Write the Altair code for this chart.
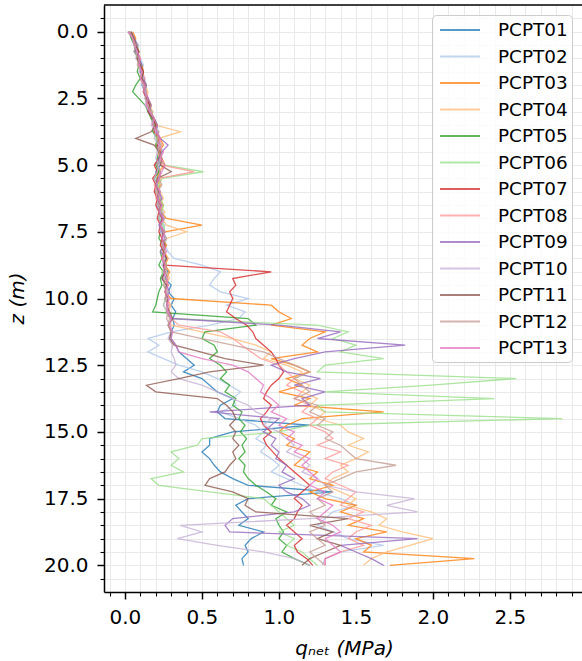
import altair as alt
import pandas as pd

DEPTH = [0.0, 0.25, 0.5, 0.75, 1.0, 1.25, 1.5, 1.75, 2.0, 2.25,
         2.5, 2.75, 3.0, 3.25, 3.5, 3.75, 4.0, 4.25, 4.5, 4.75,
         5.0, 5.25, 5.5, 5.75, 6.0, 6.25, 6.5, 6.75, 7.0, 7.25,
         7.5, 7.75, 8.0, 8.25, 8.5, 8.75, 9.0, 9.25, 9.5, 9.75,
         10.0, 10.25, 10.5, 10.75, 11.0, 11.25, 11.5, 11.75, 12.0, 12.25,
         12.5, 12.75, 13.0, 13.25, 13.5, 13.75, 14.0, 14.25, 14.5, 14.75,
         15.0, 15.25, 15.5, 15.75, 16.0, 16.25, 16.5, 16.75, 17.0, 17.25,
         17.5, 17.75, 18.0, 18.25, 18.5, 18.75, 19.0, 19.25, 19.5, 19.75,
         20.0]

NAMES = ["PCPT01", "PCPT02", "PCPT03", "PCPT04", "PCPT05", "PCPT06", "PCPT07",
         "PCPT08", "PCPT09", "PCPT10", "PCPT11", "PCPT12", "PCPT13"]
COLORS = ["#1f77b4", "#aec7e8", "#ff7f0e", "#ffbb78", "#2ca02c", "#98df8a", "#d62728",
          "#ff9896", "#9467bd", "#c5b0d5", "#8c564b", "#c49c94", "#e377c2"]

PCPT01 = [0.02, 0.05, 0.07, 0.06, 0.09, 0.11, 0.10, 0.12, 0.11, 0.13, 0.15, 0.14, 0.18, 0.17, 0.21, 0.20,
          0.23, 0.21, 0.24, 0.22, 0.23, 0.20, 0.22, 0.21, 0.23, 0.21, 0.24, 0.22, 0.25, 0.23, 0.26, 0.24,
          0.26, 0.25, 0.27, 0.25, 0.28, 0.26, 0.30, 0.28, 0.32, 0.30, 0.33, 0.31, 0.32, 0.30,
          0.30, 0.33, 0.35, 0.40, 0.45, 0.38, 0.50, 0.55, 0.60, 0.70, 0.62, 0.60, 0.65, 1.20, 0.70, 0.55,
          0.55, 0.50, 0.55, 0.58, 0.62, 0.70, 0.80, 1.35, 0.80, 0.72, 0.76, 0.80, 0.74, 0.90, 0.82, 0.78,
          0.80, 0.76, 0.77]
PCPT02 = [0.04, 0.06, 0.09, 0.08, 0.10, 0.12, 0.11, 0.13, 0.12, 0.14, 0.13, 0.16, 0.16, 0.19, 0.19, 0.22,
          0.21, 0.24, 0.22, 0.23, 0.21, 0.23, 0.20, 0.22, 0.22, 0.24, 0.22, 0.25, 0.23, 0.26, 0.24, 0.27,
          0.26, 0.28,
          0.32, 0.50, 0.62, 0.58, 0.55, 0.62, 0.80, 0.66, 0.78, 0.74, 0.55, 0.30, 0.15, 0.22, 0.15, 0.25,
          0.35, 0.50, 0.60, 0.68, 0.75, 0.70, 0.72, 0.62, 0.74, 0.85, 0.90, 0.85, 0.92, 0.88, 0.95, 1.00,
          0.95, 1.05, 1.15, 1.25, 1.40, 1.50, 1.35, 1.30, 1.25, 1.35, 1.45, 1.68, 1.40, 1.30, 1.28]
PCPT03 = [0.05, 0.07, 0.06, 0.09, 0.08, 0.11, 0.12, 0.10, 0.13, 0.12, 0.15, 0.17, 0.16, 0.19, 0.21, 0.19,
          0.23, 0.25, 0.22, 0.24, 0.26, 0.22, 0.21, 0.23, 0.20, 0.22, 0.25, 0.23, 0.27, 0.50, 0.26, 0.24,
          0.27, 0.25, 0.28, 0.26, 0.29, 0.27, 0.28, 0.26,
          0.30, 0.95, 1.00, 1.08, 0.95, 1.30, 1.20, 1.15, 1.25, 0.95, 1.10, 1.20, 1.05, 1.15, 1.00, 1.20,
          1.10, 1.68, 1.15, 1.05, 1.00, 1.10, 1.05, 1.20, 1.15, 1.10, 1.25, 1.20, 1.35, 1.20, 1.30, 1.50,
          1.40, 1.55, 1.45, 1.70, 1.50, 1.60, 1.55, 2.27, 1.72]
PCPT04 = [0.03, 0.06, 0.08, 0.07, 0.10, 0.09, 0.12, 0.11, 0.13, 0.15, 0.14, 0.16, 0.18, 0.17, 0.20, 0.36,
          0.22, 0.20, 0.24, 0.23, 0.25, 0.22, 0.24, 0.21, 0.23, 0.25, 0.22, 0.26, 0.24, 0.27, 0.40, 0.27,
          0.24, 0.26, 0.28, 0.25, 0.27, 0.29, 0.26, 0.28, 0.27, 0.30, 0.28, 0.27,
          0.30, 0.50, 0.70, 0.85, 0.95, 0.90, 1.05, 1.15, 1.10, 1.20, 1.15, 1.25, 1.20, 1.30, 1.25, 1.40,
          1.45, 1.55, 1.45, 1.58, 1.50, 1.40, 1.45, 1.35, 1.30, 1.40, 1.50, 1.45, 1.60, 1.70, 1.65, 1.80,
          2.00, 1.85, 1.70, 1.60, 1.55]
PCPT05 = [0.03, 0.04, 0.06, 0.07, 0.08, 0.09, 0.08, 0.10, 0.07, 0.05, 0.09, 0.13, 0.15, 0.17, 0.19, 0.18,
          0.21, 0.20, 0.22, 0.21, 0.20, 0.22, 0.19, 0.21, 0.20, 0.22, 0.21, 0.23, 0.22, 0.24, 0.23, 0.22,
          0.25, 0.23, 0.24, 0.22, 0.25, 0.23, 0.24, 0.22, 0.21, 0.20, 0.18,
          0.80, 0.85, 0.52, 0.50, 0.58, 0.60, 0.55, 0.62, 0.66, 0.62, 0.68, 0.65, 0.72, 0.70, 0.76, 0.74,
          0.78, 0.75, 0.79, 0.76, 0.78, 0.74, 0.78, 0.77, 0.80, 0.85, 0.92, 0.98, 0.95, 1.05, 0.98, 1.00,
          1.03, 1.00, 1.05, 1.02, 1.10, 1.20]
PCPT06 = [0.04, 0.05, 0.08, 0.09, 0.08, 0.11, 0.10, 0.12, 0.14, 0.13, 0.15, 0.14, 0.17, 0.19, 0.18, 0.21,
          0.20, 0.23, 0.24, 0.22, 0.26, 0.51, 0.24, 0.22, 0.21, 0.23, 0.25, 0.24, 0.22, 0.25, 0.26, 0.24,
          0.23, 0.26, 0.25, 0.27, 0.24, 0.26, 0.25, 0.28, 0.26, 0.25, 0.27, 0.30,
          1.25, 1.45, 1.35, 1.50, 1.40, 1.68, 1.30, 1.25, 2.54, 1.99, 1.30, 2.40, 1.25, 1.30, 2.84, 1.20,
          1.00, 0.50, 0.47, 0.30, 0.35, 0.30, 0.38, 0.17, 0.22, 0.55, 0.90, 0.95, 1.00, 1.05, 1.10, 1.00,
          1.10, 1.05, 1.15, 1.20, 1.25]
PCPT07 = [0.03, 0.05, 0.07, 0.09, 0.08, 0.10, 0.12, 0.11, 0.13, 0.12, 0.14, 0.16, 0.15, 0.18, 0.20, 0.19,
          0.22, 0.21, 0.23, 0.22, 0.19, 0.21, 0.18, 0.20, 0.19, 0.21, 0.20, 0.22, 0.21, 0.23, 0.22, 0.24,
          0.23, 0.25, 0.24, 0.26,
          0.95, 0.70, 0.72, 0.68, 0.70, 0.68, 0.66, 0.72, 0.79, 0.83, 0.85, 0.90, 0.95, 0.98, 1.00, 1.03,
          1.00, 0.95, 0.92, 0.90, 0.95, 0.92, 0.88, 0.90, 0.95, 0.90, 0.92, 0.96, 1.00, 1.05, 1.10, 1.15,
          1.20, 1.15, 1.10, 1.15, 1.12, 1.10, 1.05, 1.10, 1.15, 1.10, 1.12, 1.18, 1.22]
PCPT08 = [0.02, 0.06, 0.07, 0.08, 0.10, 0.09, 0.11, 0.13, 0.12, 0.14, 0.15, 0.14, 0.17, 0.18, 0.21, 0.20,
          0.22, 0.24, 0.21, 0.23, 0.24, 0.45, 0.22, 0.19, 0.21, 0.20, 0.23, 0.22, 0.24, 0.23, 0.25, 0.24,
          0.26, 0.25, 0.24, 0.26, 0.27, 0.25, 0.28, 0.26, 0.27, 0.29, 0.28, 0.30,
          0.35, 0.62, 0.70, 0.76, 0.82, 0.88, 1.00, 1.05, 1.10, 1.05, 1.15, 1.10, 1.20, 1.15, 1.25, 1.20,
          1.30, 1.35, 1.25, 1.40, 1.30, 1.45, 1.35, 1.30, 1.40, 1.50, 1.45, 1.40, 1.55, 1.45, 1.60, 1.50,
          1.45, 1.55, 1.40, 1.30, 1.30]
PCPT09 = [0.04, 0.06, 0.08, 0.07, 0.09, 0.11, 0.10, 0.12, 0.14, 0.13, 0.15, 0.17, 0.16, 0.19, 0.21, 0.20,
          0.23, 0.28, 0.24, 0.22, 0.21, 0.23, 0.22, 0.20, 0.22, 0.24, 0.21, 0.23, 0.25, 0.22, 0.24, 0.26,
          0.25, 0.23, 0.27, 0.25, 0.26, 0.24, 0.27, 0.29, 0.26, 0.28, 0.27,
          0.30, 1.00, 1.40, 1.25, 1.82, 1.30, 1.10, 0.95, 1.05, 1.27, 1.10, 1.30, 1.15, 1.20, 0.55, 1.00,
          0.95, 0.90, 0.98, 0.95, 1.00, 0.98, 1.05, 1.02, 1.10, 1.00, 1.05, 1.15, 1.20, 1.10, 0.70, 0.65,
          0.68, 1.90, 1.40, 1.50, 1.60, 1.68]
PCPT10 = [0.03, 0.05, 0.06, 0.08, 0.07, 0.10, 0.09, 0.12, 0.11, 0.13, 0.14, 0.13, 0.16, 0.18, 0.17, 0.20,
          0.19, 0.22, 0.21, 0.20, 0.22, 0.21, 0.19, 0.21, 0.20, 0.22, 0.21, 0.23, 0.22, 0.24, 0.23, 0.25,
          0.24, 0.26, 0.25, 0.24, 0.27, 0.25, 0.26, 0.28, 0.27, 0.25, 0.28, 0.27, 0.29, 0.30, 0.28, 0.31,
          0.30, 0.32,
          0.33, 0.30, 0.35, 0.50, 0.60, 0.70, 0.80, 0.85, 0.95, 0.90, 1.00, 1.05, 1.10, 1.05, 1.15, 1.20,
          1.15, 1.25, 1.30, 1.50, 1.88, 1.70, 1.90, 1.20, 0.36, 0.50, 0.34, 0.60, 0.90, 1.10, 1.20]
PCPT11 = [0.04, 0.06, 0.07, 0.09, 0.08, 0.10, 0.12, 0.11, 0.13, 0.12, 0.14, 0.16, 0.15, 0.18, 0.20, 0.17,
          0.07, 0.19, 0.22, 0.24, 0.23, 0.30, 0.21, 0.20, 0.22, 0.21, 0.23, 0.22, 0.24, 0.23, 0.25, 0.24,
          0.26, 0.25, 0.27, 0.25, 0.26, 0.24, 0.27, 0.26, 0.28, 0.27, 0.29, 0.31, 0.28, 0.30, 0.29, 0.32,
          0.49, 0.65, 0.90, 0.55, 0.35, 0.14, 0.20, 0.60, 0.66, 0.70, 0.72, 0.68, 0.72, 0.70, 0.74, 0.70,
          0.72, 0.68, 0.65, 0.55, 0.52, 0.70, 0.80, 0.78, 0.85, 1.45, 1.20, 1.35, 1.25, 1.40, 1.30, 1.20,
          1.15]
PCPT12 = [0.03, 0.05, 0.07, 0.06, 0.09, 0.08, 0.11, 0.10, 0.12, 0.14, 0.13, 0.15, 0.17, 0.19, 0.18, 0.22,
          0.21, 0.23, 0.22, 0.24, 0.21, 0.23, 0.22, 0.24, 0.21, 0.23, 0.22, 0.24, 0.26, 0.23, 0.25, 0.27,
          0.24, 0.26, 0.25, 0.27, 0.26, 0.28, 0.25, 0.27, 0.26, 0.28, 0.27, 0.29, 0.28,
          0.30, 0.50, 0.70, 0.90, 1.00, 1.10, 1.20, 1.10, 1.15, 1.20, 1.10, 1.25, 1.20, 1.30, 1.25, 1.35,
          1.30, 1.40, 1.45, 1.50, 1.76, 1.50, 1.40, 1.30, 1.35, 1.25, 1.30, 1.20, 1.25, 1.30, 1.20, 1.25,
          1.30, 1.20, 1.25, 1.30]
PCPT13 = [0.02, 0.05, 0.06, 0.08, 0.10, 0.09, 0.11, 0.10, 0.13, 0.12, 0.15, 0.14, 0.16, 0.19, 0.18, 0.21,
          0.23, 0.22, 0.25, 0.23, 0.26, 0.24, 0.22, 0.20, 0.23, 0.21, 0.24, 0.22, 0.25, 0.23, 0.26, 0.24,
          0.25, 0.27, 0.24, 0.26, 0.25, 0.27, 0.28, 0.26, 0.29, 0.27, 0.28, 0.30, 0.29, 0.31, 0.30, 0.33,
          0.35, 0.50, 0.70, 0.80, 0.85, 0.90, 0.88, 0.95, 1.00, 0.95, 1.05, 1.00, 1.10, 1.05, 1.15, 1.10,
          1.20, 1.15, 1.20, 1.25, 1.20, 1.30, 1.25, 1.35, 1.30, 1.25, 1.35, 1.40, 1.30, 1.35, 1.40, 1.30,
          1.30]

SERIES = [PCPT01, PCPT02, PCPT03, PCPT04, PCPT05, PCPT06, PCPT07,
          PCPT08, PCPT09, PCPT10, PCPT11, PCPT12, PCPT13]

X_TICKS = [-0.1, 0.0, 0.1, 0.2, 0.3, 0.4, 0.5, 0.6, 0.7, 0.8, 0.9, 1.0, 1.1, 1.2, 1.3, 1.4,
           1.5, 1.6, 1.7, 1.8, 1.9, 2.0, 2.1, 2.2, 2.3, 2.4, 2.5, 2.6, 2.7, 2.8, 2.9]
Y_TICKS = [-0.5, 0.0, 0.5, 1.0, 1.5, 2.0, 2.5, 3.0, 3.5, 4.0, 4.5, 5.0, 5.5, 6.0, 6.5, 7.0,
           7.5, 8.0, 8.5, 9.0, 9.5, 10.0, 10.5, 11.0, 11.5, 12.0, 12.5, 13.0, 13.5, 14.0, 14.5,
           15.0, 15.5, 16.0, 16.5, 17.0, 17.5, 18.0, 18.5, 19.0, 19.5, 20.0, 20.5]
TOP_EDGE = [-1.0]

rows = []
for name, vals in zip(NAMES, SERIES):
    assert len(vals) == len(DEPTH), (name, len(vals))
    for z, q in zip(DEPTH, vals):
        rows.append({"name": name, "z": z, "q": q})
df = pd.DataFrame(rows)

major_x = "abs(datum.value*2 - round(datum.value*2)) < 0.001"
major_y = "abs(datum.value/2.5 - round(datum.value/2.5)) < 0.001"

FONT = "DejaVu Sans"

x_axis = alt.Axis(
    values=X_TICKS,
    labelExpr=f"({major_x}) ? format(datum.value, '.1f') : ''",
    tickSize={"condition": {"test": major_x, "value": 7}, "value": 4},
    tickWidth={"condition": {"test": major_x, "value": 1.5}, "value": 1.1},
    grid=True, gridColor="#e9e9e9", gridWidth=1,
    labelFont=FONT, labelFontSize=20, labelColor="black", labelPadding=8,
    labelOverlap=False, labelFlush=False,
    domainColor="black", domainWidth=1.5, tickColor="black",
    title="qₙₑₜ (MPa)", titleFont=FONT, titleFontSize=20, titleFontStyle="italic",
    titleFontWeight="normal", titleColor="black",
    titleX=240, titleY=62, titleBaseline="alphabetic", titleAlign="center",
)
y_axis = alt.Axis(
    values=Y_TICKS,
    labelExpr=f"({major_y}) ? format(datum.value, '.1f') : ''",
    tickSize={"condition": {"test": major_y, "value": 7}, "value": 4},
    tickWidth={"condition": {"test": major_y, "value": 1.5}, "value": 1.1},
    grid=True, gridColor="#e9e9e9", gridWidth=1,
    labelFont=FONT, labelFontSize=20, labelColor="black", labelPadding=9,
    labelOverlap=False, labelFlush=False,
    domainColor="black", domainWidth=1.5, tickColor="black",
    title="z (m)", titleFont=FONT, titleFontSize=20, titleFontStyle="italic",
    titleFontWeight="normal", titleColor="black", titleAngle=270,
    titleX=-87, titleY=293, titleBaseline="middle", titleAlign="center",
)
y_scale = alt.Scale(domain=[-1.0, 21.0], nice=False, zero=False, reverse=True)

lines = alt.Chart(df).mark_line(strokeWidth=1.3, opacity=0.8).encode(
    x=alt.X("q:Q", scale=alt.Scale(domain=[-0.136, 2.968], nice=False, zero=False), axis=x_axis),
    y=alt.Y("z:Q", scale=y_scale, axis=y_axis),
    color=alt.Color("name:N", scale=alt.Scale(domain=NAMES, range=COLORS),
                    legend=alt.Legend(title=None, orient="none", legendX=328, legendY=10,
                                      symbolType="M-2,0H2", symbolSize=400, symbolStrokeWidth=1.8,
                                      symbolOffset=13, symbolOpacity=0.75,
                                      labelFont=FONT, labelFontSize=18.4,
                                      labelColor="black", labelOffset=27, rowPadding=5.5, padding=4,
                                      labelExpr="datum.label + ' '",
                                      strokeColor="#cccccc", fillColor="rgba(255,255,255,0.8)",
                                      cornerRadius=4, labelLimit=200)),
    order=alt.Order("z:Q"),
)

top = alt.Chart(pd.DataFrame({"z": TOP_EDGE})).mark_rule(color="black", strokeWidth=1.5).encode(
    y=alt.Y("z:Q", scale=y_scale, axis=y_axis)
)

chart = alt.layer(lines, top).properties(
    width=478, height=587,
    padding={"left": 104, "top": 5, "right": 0, "bottom": 69},
    autosize="none",
).configure_view(stroke=None)

chart.save("out.html", embed_options={"renderer": "svg", "actions": False})
